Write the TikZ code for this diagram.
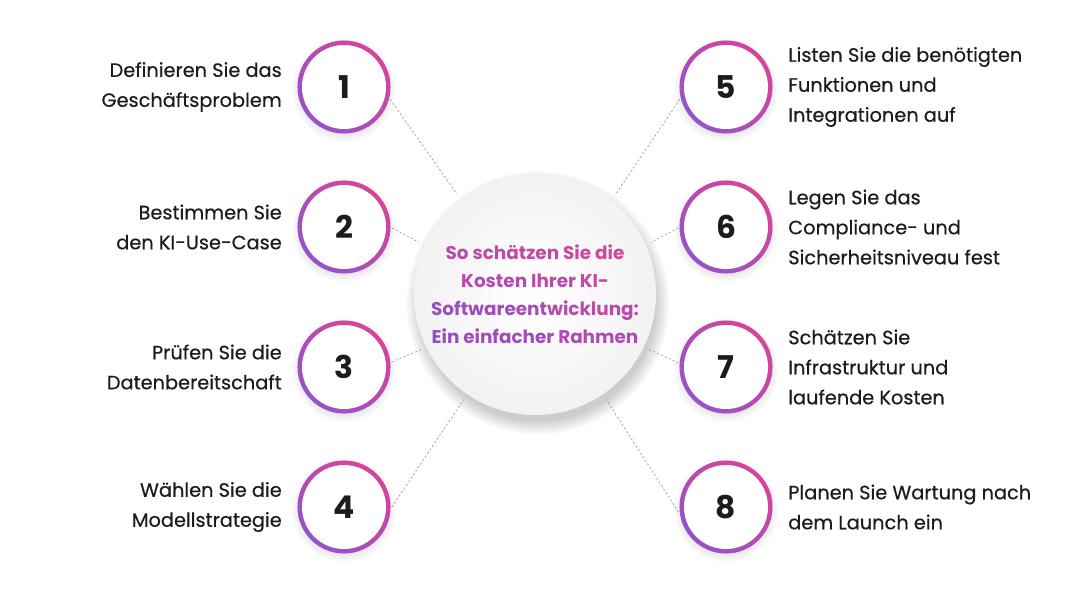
\documentclass[tikz,border=0pt]{standalone}
\usepackage{fontspec}
\setmainfont{Poppins}
\newfontfamily\labfont{Poppins}[FakeBold=0.45]
\definecolor{ringpurple}{HTML}{9553C9}
\definecolor{ringpink}{HTML}{D8439A}
\definecolor{tpurple}{HTML}{8E4FC6}
\definecolor{tpink}{HTML}{D4479A}
\definecolor{txt}{HTML}{1C1C1C}
\definecolor{dashc}{HTML}{9A9A9A}
\newcommand\tc[2]{\textcolor{tpink!#1!tpurple}{#2}}
\begin{document}
\begin{tikzpicture}[x=0.75pt,y=-0.75pt,
  numc/.style={circle, minimum size=69.75pt, inner sep=0pt, outer sep=1pt,
    font=\fontsize{23.5}{23.5}\selectfont\bfseries, text=txt},
  lab/.style={inner sep=0pt, font=\labfont\fontsize{14.5}{22.5}\selectfont, text=txt},
  labl/.style={lab, anchor=east, align=right},
  labr/.style={lab, anchor=west, align=left},
  conn/.style={draw=dashc, line width=0.5pt, dash pattern=on 1.6pt off 1.6pt},
  glow/.style={fill=black, opacity=0.013},
  ring/.style={bottom color=ringpurple, top color=ringpink, shading angle=-45}
]
\useasboundingbox (0,0) rectangle (1080,592);
\fill[white] (0,0) rectangle (1080,592);

% center circle: soft shadow then face
\foreach \k in {0,...,9} {
  \fill[glow, opacity=0.018] (538,303) circle ({90.75pt - 2pt + \k*1.1pt});
}
\shade[inner color=white, outer color=black!5] (535,294) circle (90.75pt);
\node[circle, minimum size=190pt, inner sep=0pt, align=center,
  font=\fontsize{13.8}{21}\selectfont\bfseries] (c) at (535,294)
  {\tc{60}{So} \tc{72}{schätzen} \tc{85}{Sie} \tc{95}{die}\\
   \tc{50}{Kosten} \tc{65}{Ihrer} \tc{80}{KI-}\\
   \tc{20}{Softw}\tc{30}{are}\tc{40}{ent}\tc{55}{wick}\tc{70}{lung:}\\
   \tc{10}{Ein} \tc{25}{einfacher} \tc{45}{Rahmen}};

% number circles
\foreach \n/\x/\y in {1/344/87, 2/344/227, 3/344/367, 4/344/507,
                      5/726/87, 6/726/227, 7/726/367, 8/726/507} {
  \foreach \k in {0,...,6} {
    \fill[glow] (\x,\y+3) circle ({34.9pt - 1pt + \k*0.9pt});
  }
  \shade[ring] (\x,\y) circle (34.9pt);
  \fill[white] (\x,\y) circle (31.5pt);
  \node[numc] (n\n) at (\x,\y) {\n};
}

% labels
\node[labl] (l1) at (282,87) {Definieren Sie das\\Geschäftsproblem};
\node[labl] (l2) at (282,227) {Bestimmen Sie\\den KI-Use-Case};
\node[labl] (l3) at (282,367) {Prüfen Sie die\\Datenbereitschaft};
\node[labl] (l4) at (282,507) {Wählen Sie die\\Modellstrategie};
\node[labr] (l5) at (788,87) {Listen Sie die benötigten\\Funktionen und\\Integrationen auf};
\node[labr] (l6) at (788,227) {Legen Sie das\\Compliance- und\\Sicherheitsniveau fest};
\node[labr] (l7) at (788,367) {Schätzen Sie\\Infrastruktur und\\laufende Kosten};
\node[labr] (l8) at (788,507) {Planen Sie Wartung nach\\dem Launch ein};

% connectors
\draw[conn] (n1.-15) -- (c.128.5);
\draw[conn] (n2.-1) -- (c.156.5);
\draw[conn] (n3.6) -- (c.206);
\draw[conn] (n4.0) -- (c.236.5);
\draw[conn] (n5.195) -- (c.51.5);
\draw[conn] (n6.181) -- (c.24.7);
\draw[conn] (n7.175) -- (c.-26.4);
\draw[conn] (n8.186) -- (c.-56.5);
\end{tikzpicture}
\end{document}
